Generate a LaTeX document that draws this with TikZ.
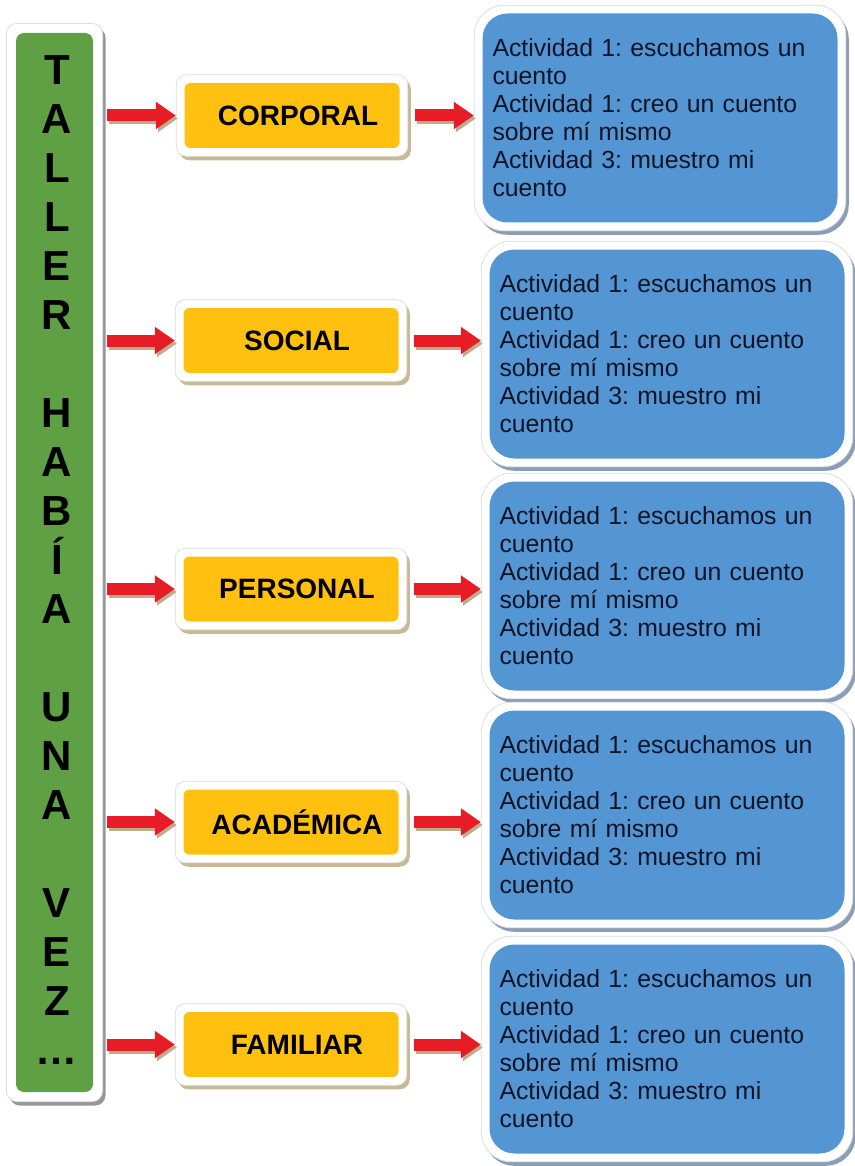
\documentclass[tikz,border=0pt]{standalone}
\usepackage{fontspec}
\setmainfont{Liberation Sans}
\frenchspacing
\usetikzlibrary{arrows.meta,fit,backgrounds,shadows}
\definecolor{gcol}{RGB}{95,160,68}
\definecolor{ycol}{RGB}{255,192,16}
\definecolor{bcol}{RGB}{84,150,211}
\definecolor{redc}{RGB}{232,28,38}
\definecolor{arrsh}{RGB}{190,172,140}
\definecolor{ysh}{RGB}{200,186,150}
\definecolor{bsh}{RGB}{140,158,182}
\definecolor{gsh}{RGB}{150,150,150}
\definecolor{framec}{RGB}{222,222,222}
\definecolor{btext}{RGB}{18,20,38}
\begin{document}
\begin{tikzpicture}[x=0.75pt,y=-0.75pt,
  ybox/.style={fill=ycol, rounded corners=4.5pt, minimum width=161.25pt, minimum height=48.75pt, inner sep=0pt, font=\fontsize{21}{25}\selectfont\bfseries, text=black},
  bbox/.style={fill=bcol, rounded corners=18.75pt, minimum width=266.25pt, minimum height=156.75pt, text width=251.25pt, inner xsep=7.5pt, inner ysep=0pt, align=left, font=\fontsize{18.6}{21}\selectfont, text=btext},
  gbox/.style={fill=gcol, rounded corners=6pt, minimum width=57.75pt, minimum height=794.25pt, inner sep=0pt},
  frame/.style={fill=white, draw=framec, line width=0.6pt, inner sep=6pt},
  yframe/.style={frame, rounded corners=7.5pt, drop shadow={shadow xshift=2.25pt, shadow yshift=-3pt, opacity=1, fill=ysh}},
  bframe/.style={frame, rounded corners=22.5pt, drop shadow={shadow xshift=2.25pt, shadow yshift=-3pt, opacity=1, fill=bsh}},
  gframe/.style={frame, inner sep=7pt, rounded corners=8pt, drop shadow={shadow xshift=2.25pt, shadow yshift=-3pt, opacity=1, fill=gsh}},
  redarrow/.style={draw=redc, line width=9pt, -{Triangle[length=15pt,width=19.5pt]}},
  arrshadow/.style={draw=arrsh, line width=9pt, -{Triangle[length=15pt,width=19.5pt]}, transform canvas={shift={(2,3)}}},
]
\useasboundingbox (0,0) rectangle (855,1166);

% green bar
\node[gbox] (gbar) at (54.5,562.5) {};
\node[anchor=north, inner sep=0pt, align=center, font=\fontsize{31.5}{36.75}\selectfont\bfseries] (title) at (57,55)
  {T\\A\\L\\L\\E\\R\\\mbox{}\\H\\A\\B\\Í\\A\\\mbox{}\\U\\N\\A\\\mbox{}\\V\\E\\Z\\…};

% yellow boxes
\node[ybox] (c1) at (292,115.5) {\hspace*{9pt}CORPORAL};
\node[ybox] (c2) at (291,340.5) {\hspace*{9pt}SOCIAL};
\node[ybox] (c3) at (291,589) {\hspace*{9pt}PERSONAL};
\node[ybox] (c4) at (291,822) {\hspace*{9pt}ACADÉMICA};
\node[ybox] (c5) at (291,1044.5) {\hspace*{9pt}FAMILIAR};

% blue boxes
\newcommand{\acttext}{Actividad 1: escuchamos un\\cuento\\Actividad 1: creo un cuento\\sobre mí mismo\\Actividad 3: muestro mi\\cuento}
\node[bbox] (b1) at (660,118) {\acttext};
\node[bbox] (b2) at (667,354) {\acttext};
\node[bbox] (b3) at (667,586) {\acttext};
\node[bbox] (b4) at (667,815) {\acttext};
\node[bbox] (b5) at (667,1049) {\acttext};

\begin{scope}[on background layer]
  \fill[white] (0,0) rectangle (855,1166);
  \node[gframe, fit=(gbar)] (gf) {};
  \node[yframe, fit=(c1)] (c1f) {};
  \node[yframe, fit=(c2)] (c2f) {};
  \node[yframe, fit=(c3)] (c3f) {};
  \node[yframe, fit=(c4)] (c4f) {};
  \node[yframe, fit=(c5)] (c5f) {};
  \node[bframe, fit=(b1)] (b1f) {};
  \node[bframe, fit=(b2)] (b2f) {};
  \node[bframe, fit=(b3)] (b3f) {};
  \node[bframe, fit=(b4)] (b4f) {};
  \node[bframe, fit=(b5)] (b5f) {};
\end{scope}

% arrows
\foreach \i in {1,...,5}{
  \draw[arrshadow, shorten <=3pt] (gf.east |- c\i f.west) -- (c\i f.west);
  \draw[redarrow, shorten <=3pt] (gf.east |- c\i f.west) -- (c\i f.west);
  \draw[arrshadow, shorten <=5pt] (c\i f.east) -- (c\i f.east -| b\i f.west);
  \draw[redarrow, shorten <=5pt] (c\i f.east) -- (c\i f.east -| b\i f.west);
}
\end{tikzpicture}
\end{document}
